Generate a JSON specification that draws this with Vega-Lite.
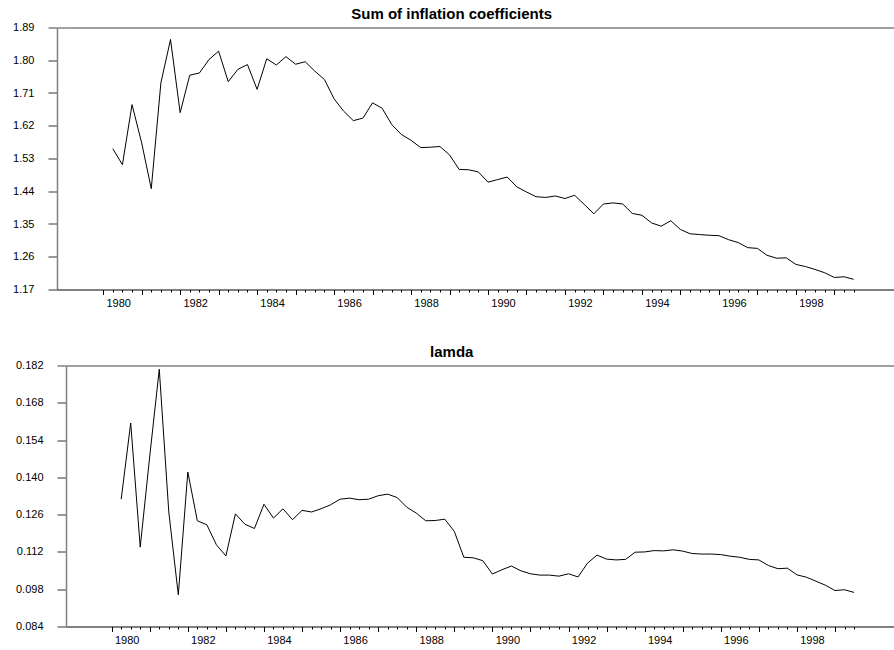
{
  "$schema": "https://vega.github.io/schema/vega-lite/v6.json",
  "padding": {"left": 0, "top": 6.5, "right": 0, "bottom": 0},
  "config": {
    "view": {"stroke": null},
    "font": "Liberation Sans",
    "axis": {"labelFont": "Liberation Sans", "labelFontSize": 11, "labelColor": "#000", "grid": false, "title": null}
  },
  "data": {"values": [
    {"t": 1980.25, "infl": 1.557, "lam": 0.1318},
    {"t": 1980.5, "infl": 1.513, "lam": 0.1604},
    {"t": 1980.75, "infl": 1.678, "lam": 0.1138},
    {"t": 1981, "infl": 1.573, "lam": 0.148},
    {"t": 1981.25, "infl": 1.447, "lam": 0.1806},
    {"t": 1981.5, "infl": 1.738, "lam": 0.127},
    {"t": 1981.75, "infl": 1.857, "lam": 0.0959},
    {"t": 1982, "infl": 1.656, "lam": 0.142},
    {"t": 1982.25, "infl": 1.759, "lam": 0.1237},
    {"t": 1982.5, "infl": 1.765, "lam": 0.1222},
    {"t": 1982.75, "infl": 1.802, "lam": 0.1147},
    {"t": 1983, "infl": 1.825, "lam": 0.1105},
    {"t": 1983.25, "infl": 1.741, "lam": 0.1263},
    {"t": 1983.5, "infl": 1.775, "lam": 0.1224},
    {"t": 1983.75, "infl": 1.788, "lam": 0.1208},
    {"t": 1984, "infl": 1.72, "lam": 0.1299},
    {"t": 1984.25, "infl": 1.804, "lam": 0.1247},
    {"t": 1984.5, "infl": 1.787, "lam": 0.1282},
    {"t": 1984.75, "infl": 1.81, "lam": 0.1241},
    {"t": 1985, "infl": 1.789, "lam": 0.1276},
    {"t": 1985.25, "infl": 1.796, "lam": 0.127},
    {"t": 1985.5, "infl": 1.77, "lam": 0.1282},
    {"t": 1985.75, "infl": 1.747, "lam": 0.1297},
    {"t": 1986, "infl": 1.694, "lam": 0.1318},
    {"t": 1986.25, "infl": 1.66, "lam": 0.1322},
    {"t": 1986.5, "infl": 1.634, "lam": 0.1316},
    {"t": 1986.75, "infl": 1.641, "lam": 0.1318},
    {"t": 1987, "infl": 1.683, "lam": 0.1331},
    {"t": 1987.25, "infl": 1.668, "lam": 0.1337},
    {"t": 1987.5, "infl": 1.623, "lam": 0.1324},
    {"t": 1987.75, "infl": 1.596, "lam": 0.1288},
    {"t": 1988, "infl": 1.58, "lam": 0.1266},
    {"t": 1988.25, "infl": 1.56, "lam": 0.1237},
    {"t": 1988.5, "infl": 1.561, "lam": 0.1238},
    {"t": 1988.75, "infl": 1.563, "lam": 0.1243},
    {"t": 1989, "infl": 1.54, "lam": 0.1197},
    {"t": 1989.25, "infl": 1.5, "lam": 0.11},
    {"t": 1989.5, "infl": 1.499, "lam": 0.1098},
    {"t": 1989.75, "infl": 1.493, "lam": 0.1087},
    {"t": 1990, "infl": 1.465, "lam": 0.1037},
    {"t": 1990.25, "infl": 1.472, "lam": 0.1053},
    {"t": 1990.5, "infl": 1.479, "lam": 0.1067},
    {"t": 1990.75, "infl": 1.452, "lam": 0.1049},
    {"t": 1991, "infl": 1.438, "lam": 0.1038},
    {"t": 1991.25, "infl": 1.425, "lam": 0.1033},
    {"t": 1991.5, "infl": 1.423, "lam": 0.1033},
    {"t": 1991.75, "infl": 1.427, "lam": 0.1029},
    {"t": 1992, "infl": 1.42, "lam": 0.1038},
    {"t": 1992.25, "infl": 1.429, "lam": 0.1026},
    {"t": 1992.5, "infl": 1.404, "lam": 0.1078},
    {"t": 1992.75, "infl": 1.378, "lam": 0.1108},
    {"t": 1993, "infl": 1.405, "lam": 0.1093},
    {"t": 1993.25, "infl": 1.408, "lam": 0.109},
    {"t": 1993.5, "infl": 1.405, "lam": 0.1092},
    {"t": 1993.75, "infl": 1.379, "lam": 0.1119},
    {"t": 1994, "infl": 1.374, "lam": 0.112},
    {"t": 1994.25, "infl": 1.353, "lam": 0.1125},
    {"t": 1994.5, "infl": 1.344, "lam": 0.1124},
    {"t": 1994.75, "infl": 1.359, "lam": 0.1128},
    {"t": 1995, "infl": 1.335, "lam": 0.1123},
    {"t": 1995.25, "infl": 1.323, "lam": 0.1114},
    {"t": 1995.5, "infl": 1.321, "lam": 0.1112},
    {"t": 1995.75, "infl": 1.319, "lam": 0.1112},
    {"t": 1996, "infl": 1.318, "lam": 0.111},
    {"t": 1996.25, "infl": 1.307, "lam": 0.1104},
    {"t": 1996.5, "infl": 1.299, "lam": 0.11},
    {"t": 1996.75, "infl": 1.285, "lam": 0.1092},
    {"t": 1997, "infl": 1.283, "lam": 0.109},
    {"t": 1997.25, "infl": 1.264, "lam": 0.1069},
    {"t": 1997.5, "infl": 1.256, "lam": 0.1057},
    {"t": 1997.75, "infl": 1.257, "lam": 0.1059},
    {"t": 1998, "infl": 1.239, "lam": 0.1034},
    {"t": 1998.25, "infl": 1.233, "lam": 0.1025},
    {"t": 1998.5, "infl": 1.225, "lam": 0.101},
    {"t": 1998.75, "infl": 1.216, "lam": 0.0995},
    {"t": 1999, "infl": 1.203, "lam": 0.0975},
    {"t": 1999.25, "infl": 1.205, "lam": 0.0978},
    {"t": 1999.5, "infl": 1.198, "lam": 0.0968}
  ]},
  "spacing": 36,
  "vconcat": [
    {
      "width": 828,
      "height": 262,
      "title": {"text": "Sum of inflation coefficients", "font": "Liberation Sans", "fontSize": 15, "fontWeight": "bold", "color": "#000", "anchor": "middle", "dx": -28.3, "offset": -0.5},
      "layer": [
        {
          "mark": {"type": "line", "color": "#000", "strokeWidth": 1},
          "encoding": {
            "x": {"field": "t", "type": "quantitative",
              "scale": {"domain": [1979.034, 2000.55], "nice": false, "zero": false},
              "axis": {"orient": "bottom", "values": [1980,1980.25,1980.5,1980.75,1981,1981.25,1981.5,1981.75,1982,1982.25,1982.5,1982.75,1983,1983.25,1983.5,1983.75,1984,1984.25,1984.5,1984.75,1985,1985.25,1985.5,1985.75,1986,1986.25,1986.5,1986.75,1987,1987.25,1987.5,1987.75,1988,1988.25,1988.5,1988.75,1989,1989.25,1989.5,1989.75,1990,1990.25,1990.5,1990.75,1991,1991.25,1991.5,1991.75,1992,1992.25,1992.5,1992.75,1993,1993.25,1993.5,1993.75,1994,1994.25,1994.5,1994.75,1995,1995.25,1995.5,1995.75,1996,1996.25,1996.5,1996.75,1997,1997.25,1997.5,1997.75,1998,1998.25,1998.5,1998.75,1999,1999.25,1999.5],
                "domainColor": "#000", "domainWidth": 1, "tickColor": "#000", "tickWidth": 1,
                "tickSize": {"condition": {"test": "datum.value % 1 === 0", "value": 5}, "value": 2.5},
                "labelExpr": "datum.value % 2 === 0 ? format(datum.value, 'd') : ''",
                "labelOffset": 15, "labelPadding": 3, "labelOverlap": false, "labelFlush": false, "labelBound": false}},
            "y": {"field": "infl", "type": "quantitative",
              "scale": {"domain": [1.17, 1.89], "nice": false, "zero": false},
              "axis": {"orient": "left", "offset": 9, "values": [1.17, 1.26, 1.35, 1.44, 1.53, 1.62, 1.71, 1.80, 1.89], "format": ".2f",
                "domainColor": "#808080", "domainWidth": 1.5, "tickSize": 9, "labelPadding": 14, "minExtent": 57, "labelOverlap": false,
                "tickColor": {"condition": {"test": "datum.value > 1.88", "value": "#808080"}, "value": "#333"},
                "tickWidth": {"condition": {"test": "datum.value > 1.88", "value": 1.5}, "value": 1}}}
          }
        },
        {
          "mark": {"type": "line", "opacity": 0},
          "encoding": {
            "x": {"field": "t", "type": "quantitative", "axis": {"orient": "top", "ticks": false, "labels": false, "domainColor": "#808080", "domainWidth": 1.5}},
            "y": {"field": "infl", "type": "quantitative",
              "axis": {"orient": "left", "offset": 0, "domain": false, "labels": false, "values": [1.17, 1.89], "tickSize": 9, "minExtent": 0,
                "tickColor": {"condition": {"test": "datum.value > 1.5", "value": "#808080"}, "value": "#000"},
                "tickWidth": {"condition": {"test": "datum.value > 1.5", "value": 1.5}, "value": 1}}}
          }
        }
      ],
      "resolve": {"axis": {"x": "independent", "y": "independent"}}
    },
    {
      "width": 828,
      "height": 261,
      "title": {"text": "lamda", "font": "Liberation Sans", "fontSize": 15, "fontWeight": "bold", "color": "#000", "anchor": "middle", "dx": -28.3, "offset": -0.5},
      "layer": [
        {
          "mark": {"type": "line", "color": "#000", "strokeWidth": 1},
          "encoding": {
            "x": {"field": "t", "type": "quantitative",
              "scale": {"domain": [1978.8, 2000.55], "nice": false, "zero": false},
              "axis": {"orient": "bottom", "values": [1980,1980.25,1980.5,1980.75,1981,1981.25,1981.5,1981.75,1982,1982.25,1982.5,1982.75,1983,1983.25,1983.5,1983.75,1984,1984.25,1984.5,1984.75,1985,1985.25,1985.5,1985.75,1986,1986.25,1986.5,1986.75,1987,1987.25,1987.5,1987.75,1988,1988.25,1988.5,1988.75,1989,1989.25,1989.5,1989.75,1990,1990.25,1990.5,1990.75,1991,1991.25,1991.5,1991.75,1992,1992.25,1992.5,1992.75,1993,1993.25,1993.5,1993.75,1994,1994.25,1994.5,1994.75,1995,1995.25,1995.5,1995.75,1996,1996.25,1996.5,1996.75,1997,1997.25,1997.5,1997.75,1998,1998.25,1998.5,1998.75,1999,1999.25,1999.5],
                "domainColor": "#000", "domainWidth": 1, "tickColor": "#000", "tickWidth": 1,
                "tickSize": {"condition": {"test": "datum.value % 1 === 0", "value": 5}, "value": 2.5},
                "labelExpr": "datum.value % 2 === 0 ? format(datum.value, 'd') : ''",
                "labelOffset": 15, "labelPadding": 3, "labelOverlap": false, "labelFlush": false, "labelBound": false}},
            "y": {"field": "lam", "type": "quantitative",
              "scale": {"domain": [0.084, 0.182], "nice": false, "zero": false},
              "axis": {"orient": "left", "values": [0.084, 0.098, 0.112, 0.126, 0.140, 0.154, 0.168, 0.182], "format": ".3f",
                "domainColor": "#808080", "domainWidth": 1.5, "tickSize": 9, "labelPadding": 14, "minExtent": 66, "labelOverlap": false,
                "tickColor": {"condition": {"test": "datum.value > 0.181", "value": "#808080"}, "value": "#333"},
                "tickWidth": {"condition": {"test": "datum.value > 0.181", "value": 1.5}, "value": 1}}}
          }
        },
        {
          "mark": {"type": "line", "opacity": 0},
          "encoding": {
            "x": {"field": "t", "type": "quantitative", "axis": {"orient": "top", "ticks": false, "labels": false, "domainColor": "#808080", "domainWidth": 1.5}},
            "y": {"field": "lam", "type": "quantitative", "axis": null}
          }
        }
      ],
      "resolve": {"axis": {"x": "independent", "y": "independent"}}
    }
  ]
}
